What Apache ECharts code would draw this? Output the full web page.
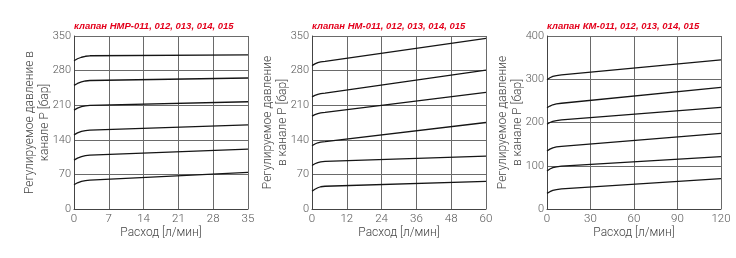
<!DOCTYPE html>
<html><head><meta charset="utf-8">
<script src="https://cdn.jsdelivr.net/npm/echarts@6/dist/echarts.min.js"></script>
<style>html,body{margin:0;padding:0;background:#fff}#c{width:736px;height:258px}</style>
</head><body><div id="c"></div>
<script>
// ---- data ----
const titles = ['клапан НМР-011, 012, 013, 014, 015', 'клапан НМ-011, 012, 013, 014, 015', 'клапан КМ-011, 012, 013, 014, 015'];
const yNames = ['Регулируемое давление в\nканале Р [бар]', 'Регулируемое давление\nв канале Р [бар]', 'Регулируемое давление\nв канале Р [бар]'];
const xName = 'Расход [л/мин]';
const xMax = [35, 60, 120];
const xStep = [7, 12, 30];
const yMax = [350, 350, 400];
const yStep = [70, 70, 100];

// chart 1 (НМР) flow points and pressures
const flow1 = [0, 0.7, 1.5, 2.3, 3.2, 35];
const p1a = [300, 304, 307, 309, 310, 312];
const p1b = [250, 254, 257, 259, 260, 265];
const p1c = [200, 204, 207, 208.5, 209.5, 217];
const p1d = [150, 154, 157, 158.5, 159.5, 170];
const p1e = [99, 103, 106, 108, 109, 121];
const p1f = [49, 53, 56, 57.5, 58.5, 74];
// chart 2 (НМ)
const flow2 = [0, 1, 2, 3, 4.5, 60];
const p2a = [290, 293.5, 296, 297.5, 298.5, 345];
const p2b = [227, 230, 232, 233.5, 234.5, 281];
const p2c = [188, 191, 193, 194.5, 195.5, 236];
const p2d = [128, 131.5, 134, 135.5, 136.5, 175];
const p2e = [88, 91.5, 94, 95.5, 96.5, 107];
const p2f = [36, 40, 43, 45, 46, 56];
// chart 3 (КМ)
const flow3 = [0, 2, 4, 6.5, 10, 120];
const p3a = [299, 303.5, 306.5, 308.5, 310, 345];
const p3b = [234, 238, 241, 243, 244.5, 281];
const p3c = [196, 200, 202.5, 204.5, 206, 235];
const p3d = [134, 138.5, 141.5, 143.5, 145, 175];
const p3e = [88, 92.5, 95.5, 97.5, 99, 121];
const p3f = [36, 40, 43, 45, 46.5, 70];

const groups = [
  {flow: flow1, curves: [p1a, p1b, p1c, p1d, p1e, p1f]},
  {flow: flow2, curves: [p2a, p2b, p2c, p2d, p2e, p2f]},
  {flow: flow3, curves: [p3a, p3b, p3c, p3d, p3e, p3f]}
];

// ---- layout ----
const gridLeft = [74, 312, 547];
const gridW = 174;
const gridTop = 36;
const gridH = 173;
const FONT = 'Roboto, "DejaVu Sans", sans-serif';
const txtColor = '#444';
const gridColor = '#6a6a6a';

const option = {
  animation: false,
  backgroundColor: '#fff',
  title: titles.map((t, i) => ({
    text: t, left: gridLeft[i] - 5, top: 16,
    textStyle: {color: '#e3001b', fontSize: 9.5, fontWeight: 'bold', fontStyle: 'italic', fontFamily: '"Liberation Sans", Arial, sans-serif'}
  })),
  grid: gridLeft.map(l => ({left: l, top: gridTop, width: gridW, height: gridH})),
  xAxis: xMax.map((m, i) => ({
    type: 'value', gridIndex: i, min: 0, max: m, interval: xStep[i],
    name: xName, nameLocation: 'middle', nameGap: 18, nameMoveOverlap: false,
    nameTextStyle: {color: txtColor, fontSize: 12, fontFamily: FONT, fontWeight: 300},
    axisLine: {show: true, lineStyle: {color: '#444', width: 1}},
    axisTick: {show: false},
    axisLabel: {color: '#555', fontSize: 11.5, fontFamily: FONT, fontWeight: 300, margin: 4},
    splitLine: {show: true, lineStyle: {color: gridColor, width: 1}}
  })),
  yAxis: yMax.map((m, i) => ({
    type: 'value', gridIndex: i, min: 0, max: m, interval: yStep[i],
    name: yNames[i], nameLocation: 'middle', nameGap: 22, nameRotate: 90, nameMoveOverlap: false,
    nameTextStyle: {color: txtColor, fontSize: 12, fontFamily: FONT, fontWeight: 300, lineHeight: 15},
    axisLine: {show: true, lineStyle: {color: '#444', width: 1}},
    axisTick: {show: false},
    axisLabel: {color: '#555', fontSize: 11, fontFamily: FONT, fontWeight: 300, margin: 3},
    splitLine: {show: true, lineStyle: {color: gridColor, width: 1}}
  })),
  series: []
};
groups.forEach((g, gi) => {
  g.curves.forEach(c => {
    option.series.push({
      type: 'line', xAxisIndex: gi, yAxisIndex: gi,
      data: g.flow.map((x, k) => [x, c[k]]),
      smooth: false, showSymbol: false, symbol: 'none',
      lineStyle: {color: '#151515', width: 1.3}
    });
  });
});
echarts.init(document.getElementById('c'), null, {renderer: 'canvas'}).setOption(option);
</script></body></html>
